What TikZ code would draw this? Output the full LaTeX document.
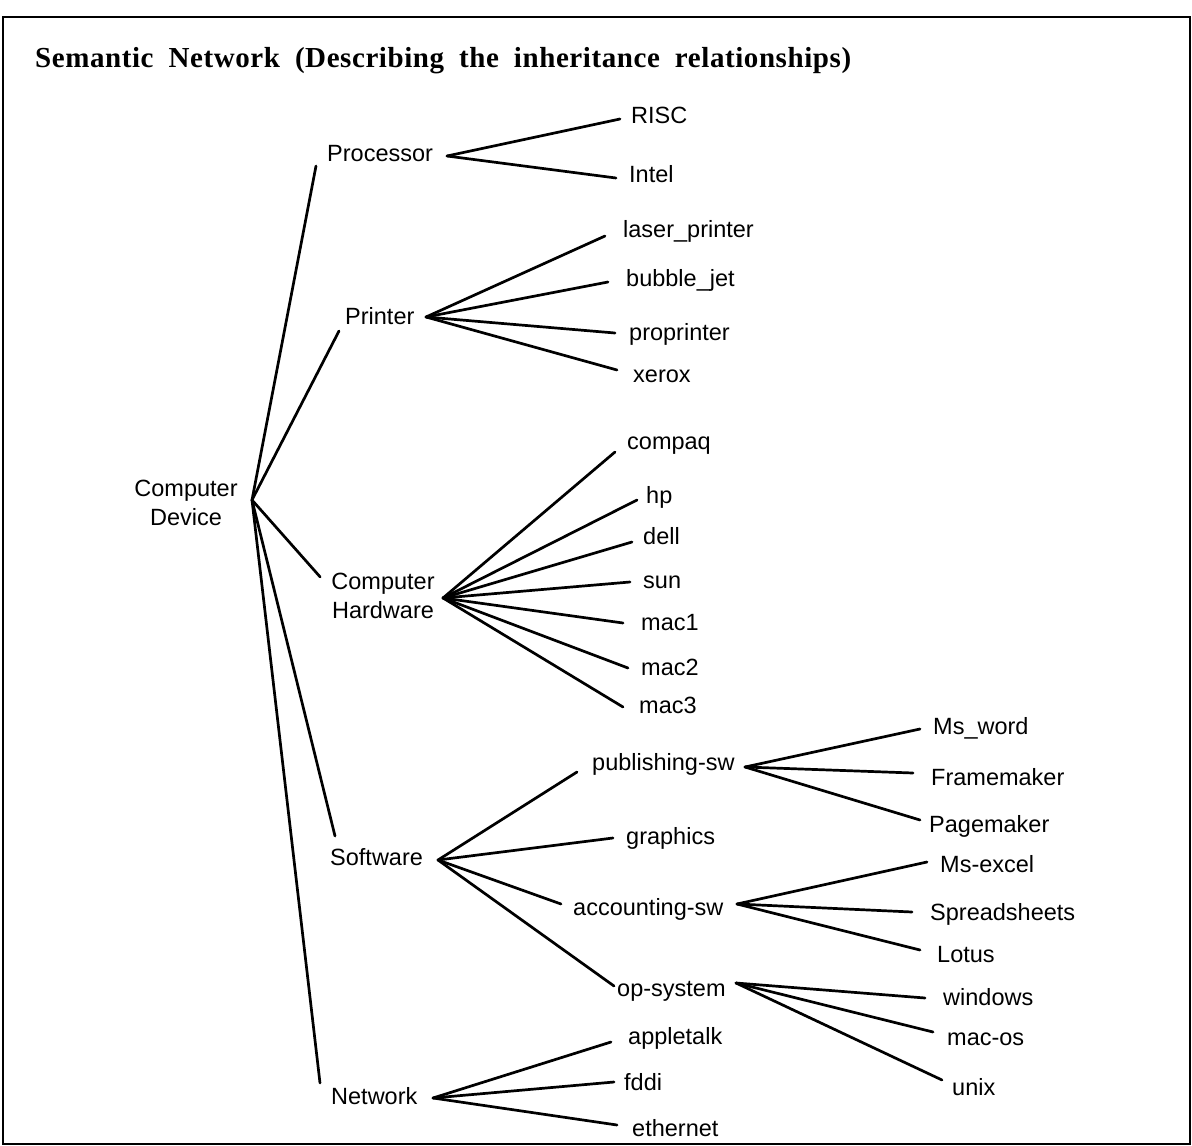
\documentclass[tikz,border=0pt]{standalone}
\usepackage{fontspec}
\setmainfont{Liberation Sans}
\newfontfamily\titlefont[LetterSpace=2]{Liberation Serif}
\newcommand\conn[3]{\draw[link] (#1) -- ([shift={(#3)}]#2.west);}
\begin{document}
\begin{tikzpicture}[x=1pt,y=-1pt,
  lbl/.style={inner sep=0pt, anchor=west, font=\fontsize{23.5}{29}\selectfont, text height=17pt, text depth=0pt},
  ml/.style={inner sep=0pt, align=center, font=\fontsize{23.5}{29.5}\selectfont},
  link/.style={line width=2.7pt, line cap=round},
  frame/.style={line width=1.8pt}]
\useasboundingbox (0,0) rectangle (1192,1146);
\draw[frame] (3,17) rectangle (1190,1144);
\node[anchor=base west, inner sep=0pt, font=\titlefont\bfseries\fontsize{29}{33}\selectfont] (title) at (35,67)
  {\spaceskip=15pt plus 3pt Semantic Network (Describing the inheritance relationships)};

% level 0
\node[ml] (cd) at (186,503) {Computer\\Device};
\coordinate (cd-h) at (252,500);

% level 1
\node[lbl] (proc) at (327,153) {Processor};
\node[lbl] (prn) at (345,316) {Printer};
\node[ml] (ch) at (383,596) {Computer\\Hardware};
\node[lbl] (sw) at (330,857) {Software};
\node[lbl] (net) at (331,1096) {Network};
\coordinate (proc-h) at (447,156);
\coordinate (prn-h) at (426,317);
\coordinate (ch-h) at (443,598);
\coordinate (sw-h) at (438,860);
\coordinate (net-h) at (433,1098);

\conn{cd-h}{proc}{-11,13}
\conn{cd-h}{prn}{-6,15}
\draw[link] (cd-h) -- ([shift={(-11,-19)}]ch.west);
\conn{cd-h}{sw}{5,-21}
\conn{cd-h}{net}{-11,-13}

% processor
\node[lbl] (risc) at (631,115) {RISC};
\node[lbl] (intel) at (629,174) {Intel};
\conn{proc-h}{risc}{-11,4}
\conn{proc-h}{intel}{-13,4}

% printer
\node[lbl] (laser) at (623,229) {laser\_printer};
\node[lbl] (bubble) at (626,278) {bubble\_jet};
\node[lbl] (propr) at (629,332) {proprinter};
\node[lbl] (xerox) at (633,374) {xerox};
\conn{prn-h}{laser}{-18,7}
\conn{prn-h}{bubble}{-18,4}
\conn{prn-h}{propr}{-14,1}
\conn{prn-h}{xerox}{-16,-4}

% computer hardware
\node[lbl] (compaq) at (627,441) {compaq};
\node[lbl] (hp) at (646,495) {hp};
\node[lbl] (dell) at (643,536) {dell};
\node[lbl] (sun) at (643,580) {sun};
\node[lbl] (mac1) at (641,622) {mac1};
\node[lbl] (mac2) at (641,667) {mac2};
\node[lbl] (mac3) at (639,705) {mac3};
\conn{ch-h}{compaq}{-12,11}
\conn{ch-h}{hp}{-9,5}
\conn{ch-h}{dell}{-11,6}
\conn{ch-h}{sun}{-13,2}
\conn{ch-h}{mac1}{-18,1}
\conn{ch-h}{mac2}{-13,1}
\conn{ch-h}{mac3}{-16,2}

% software
\node[lbl] (pub) at (592,762) {publishing-sw};
\node[lbl] (gra) at (626,836) {graphics};
\node[lbl] (acc) at (573,907) {accounting-sw};
\node[lbl] (op) at (617,988) {op-system};
\conn{sw-h}{pub}{-15,10}
\conn{sw-h}{gra}{-13,2}
\conn{sw-h}{acc}{-12,-3}
\conn{sw-h}{op}{-3,-2}
\coordinate (pub-h) at (745,767);
\coordinate (acc-h) at (737,904);
\coordinate (op-h) at (736,983);

\node[lbl] (msword) at (933,726) {Ms\_word};
\node[lbl] (frame) at (931,777) {Framemaker};
\node[lbl] (page) at (929,824) {Pagemaker};
\conn{pub-h}{msword}{-13,3}
\conn{pub-h}{frame}{-18,-4}
\conn{pub-h}{page}{-9,-4}

\node[lbl] (excel) at (940,864) {Ms-excel};
\node[lbl] (spread) at (930,912) {Spreadsheets};
\node[lbl] (lotus) at (937,954) {Lotus};
\conn{acc-h}{excel}{-13,-2}
\conn{acc-h}{spread}{-18,0}
\conn{acc-h}{lotus}{-17,-4}

\node[lbl] (win) at (943,997) {windows};
\node[lbl] (macos) at (947,1037) {mac-os};
\node[lbl] (unix) at (952,1087) {unix};
\conn{op-h}{win}{-18,1}
\conn{op-h}{macos}{-14,-5}
\conn{op-h}{unix}{-10,-7}

% network
\node[lbl] (apple) at (628,1036) {appletalk};
\node[lbl] (fddi) at (624,1082) {fddi};
\node[lbl] (eth) at (632,1128) {ethernet};
\conn{net-h}{apple}{-17,6}
\conn{net-h}{fddi}{-10,0}
\conn{net-h}{eth}{-15,-3}
\end{tikzpicture}
\end{document}
